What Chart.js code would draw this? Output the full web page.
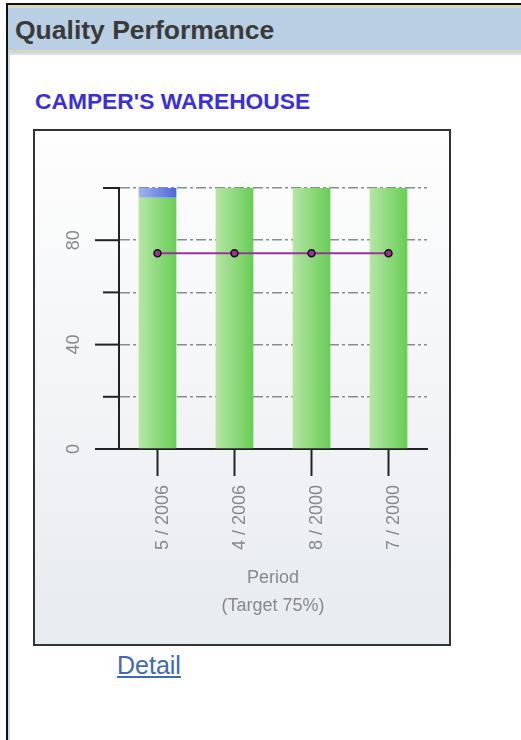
<!DOCTYPE html>
<html>
<head>
<meta charset="utf-8">
<script src="https://cdn.jsdelivr.net/npm/chart.js@4/dist/chart.umd.min.js"></script>
<style>
  body { margin: 0; background: #fff; font-family: "Liberation Sans", Arial, sans-serif; }
  #frame { position: absolute; left: 6px; top: 3px; width: 515px; height: 737px; border-left: 2px solid #111; border-top: 2px solid #111; }
  #header { position: absolute; left: 8px; top: 5px; width: 513px; height: 42px; background: #b9cfe4;
    border-top: 3px solid #d8d5c2; border-bottom: 3px solid #d8d5c2; }
  #header span { position: absolute; left: 7px; top: 7px; font-size: 26.5px; font-weight: bold; color: #3a3a3a; }
  #strip { position: absolute; left: 8px; top: 53px; width: 513px; height: 2px; background: #d4e2f0; }
  #leftline { position: absolute; left: 8px; top: 53px; width: 2px; height: 687px; background: #c9dbee; }
  #title { position: absolute; left: 35px; top: 88px; font-size: 22.8px; font-weight: bold; color: #3a30d6; }
  #box { position: absolute; left: 33px; top: 129px; width: 414px; height: 513px; border: 2px solid #333;
    background: linear-gradient(#fefefe, #e8ebef); }
  #detail { position: absolute; left: 117px; top: 651px; font-size: 25px; color: #4169b0; text-decoration: underline; }
</style>
</head>
<body>
<div id="frame"></div>
<div id="header"><span>Quality Performance</span></div>
<div id="strip"></div>
<div id="leftline"></div>
<div id="title">CAMPER'S WAREHOUSE</div>
<div id="box"><canvas id="qualityChart" width="414" height="513"></canvas></div>
<a id="detail">Detail</a>
<script>
const periods = ['5 / 2006', '4 / 2006', '8 / 2000', '7 / 2000'];
const qualityPct = [96.3, 100, 100, 100];
const otherPct = [3.7, 0, 0, 0];
const targetPct = [75, 75, 75, 75];
const yTicks = [0, 20, 40, 60, 80, 100];

const barPct = 0.49;

// horizontal gradient across each bar
function barFill(light, dark) {
  return function (c) {
    const chart = c.chart;
    const xs = chart.scales.x;
    if (!xs || !chart.chartArea) return dark;
    const cx = xs.getPixelForValue(c.dataIndex);
    const half = (xs.width / periods.length) * barPct / 2;
    const g = chart.ctx.createLinearGradient(cx - half, 0, cx + half, 0);
    g.addColorStop(0, light);
    g.addColorStop(1, dark);
    return g;
  };
}

const tickMarks = {
  id: 'tickMarks',
  afterDraw(chart) {
    const ctx = chart.ctx;
    const ys = chart.scales.y;
    const left = chart.chartArea.left;
    ctx.save();
    ctx.strokeStyle = '#222';
    ctx.lineWidth = 2;
    yTicks.forEach(v => {
      const y = ys.getPixelForValue(v);
      const len = v % 40 === 0 ? 24 : 16;
      ctx.beginPath();
      ctx.moveTo(left - len, y);
      ctx.lineTo(left, y);
      ctx.stroke();
    });
    ctx.restore();
  }
};

const ctx = document.getElementById('qualityChart').getContext('2d');
const chart = new Chart(ctx, {
  data: {
    labels: periods,
    datasets: [
      {
        type: 'line',
        label: 'Target',
        data: targetPct,
        stack: 'target',
        order: 0,
        borderColor: '#993399',
        borderWidth: 2,
        pointRadius: 3.5,
        pointBackgroundColor: '#993399',
        pointBorderColor: '#111',
        pointBorderWidth: 1.5
      },
      {
        type: 'bar',
        label: 'Quality',
        data: qualityPct,
        order: 1,
        backgroundColor: barFill('#b6e6a6', '#68cd55'),
        barPercentage: barPct,
        categoryPercentage: 1
      },
      {
        type: 'bar',
        label: 'Other',
        data: otherPct,
        order: 1,
        backgroundColor: barFill('#a3b5ea', '#4a68db'),
        barPercentage: barPct,
        categoryPercentage: 1
      }
    ]
  },
  options: {
    responsive: false,
    animation: false,
    layout: { padding: { left: 0, top: 57, right: 22, bottom: 0 } },
    plugins: { legend: { display: false }, tooltip: { enabled: false } },
    scales: {
      x: {
        stacked: true,
        afterFit: s => { s.height = 195; },
        grid: { drawOnChartArea: false, drawTicks: true, tickLength: 27, tickColor: '#222', tickWidth: 2, offset: false },
        border: { display: true, color: '#222', width: 2 },
        ticks: {
          minRotation: 90, maxRotation: 90, padding: 9, labelOffset: 6,
          color: '#888',
          font: { family: '"Liberation Sans", Arial, sans-serif', size: 18 }
        },
        title: {
          display: true,
          text: ['Period', '(Target 75%)'],
          color: '#888',
          padding: { top: 0, bottom: 24 },
          font: { family: '"Liberation Sans", Arial, sans-serif', size: 18, lineHeight: 28 / 18 }
        }
      },
      y: {
        stacked: true,
        min: 0,
        max: 100,
        afterFit: s => { s.width = 84; },
        afterBuildTicks: s => { s.ticks = yTicks.map(v => ({ value: v })); },
        grid: { drawTicks: false, color: '#8c8c8c', lineWidth: 1.5 },
        border: { display: true, color: '#222', width: 2, dash: [10, 3, 3, 3] },
        ticks: {
          minRotation: 90, maxRotation: 90, padding: 35,
          crossAlign: 'center',
          color: '#888',
          font: { family: '"Liberation Sans", Arial, sans-serif', size: 18 },
          callback: v => (v % 40 === 0 ? v : '')
        }
      }
    }
  },
  plugins: [tickMarks]
});
</script>
</body>
</html>
